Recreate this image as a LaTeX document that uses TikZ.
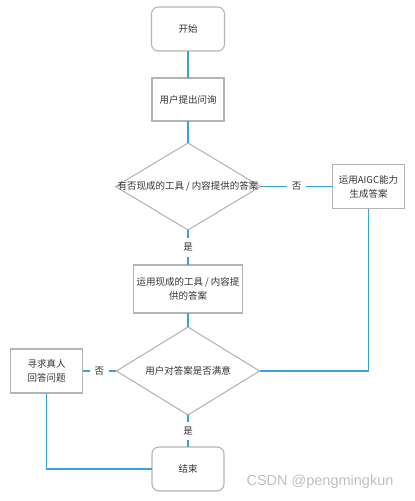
\documentclass[tikz,border=0pt]{standalone}
\usepackage{fontspec}
\setmainfont{Noto Sans CJK SC}
\usepackage{tikz}
\usetikzlibrary{shapes.geometric, positioning}
\definecolor{flowblue}{HTML}{3AA0D8}
\definecolor{flowgray}{HTML}{B4B4B4}
\definecolor{flowtext}{HTML}{333333}

\begin{document}
\begin{tikzpicture}[
  x=1pt, y=-1pt, node distance = 22pt and 72pt,
  box/.style   = {rectangle, draw=flowgray, line width=1.1pt, align=center,
                  inner sep=2pt, outer sep=0pt, text=flowtext,
                  font=\fontsize{9.5}{14}\selectfont},
  term/.style  = {box, rounded corners=7pt, minimum width=73pt, minimum height=44pt},
  proc/.style  = {box, minimum width=72pt, minimum height=44pt},
  choice/.style= {diamond, draw=flowgray, line width=1.1pt, inner sep=0pt,
                  outer sep=0pt, minimum width=145pt, minimum height=87pt},
  ctext/.style = {text=flowtext, font=\fontsize{9.5}{14}\selectfont},
  flow/.style  = {draw=flowblue, line width=1.5pt},
  tag/.style   = {fill=white, inner sep=5pt, text=flowtext,
                  font=\fontsize{9.5}{12}\selectfont}
]
  \useasboundingbox (0,0) rectangle (415,501);

  \node[term] (start) at (188,29) {开始};
  \node[proc, below=27pt of start, minimum height=43pt] (ask) {用户提出问询};
  \node[choice, below=22pt of ask] (have) {};
  \node[ctext] (haveT) at (have.center) {有否现成的工具 / 内容提供的答案};
  \node[proc, right=of have] (aigc) {运用AIGC能力\\生成答案};
  \node[proc, below=35pt of have, minimum width=109pt, minimum height=48pt] (tool)
    {运用现成的工具 / 内容提\\供的答案};
  \node[choice, below=14pt of tool, minimum width=143pt, minimum height=88pt] (ok) {};
  \node[ctext] (okT) at (ok.center) {用户对答案是否满意};
  \node[proc, left=34pt of ok] (human) {寻求真人\\回答问题};
  \node[term, below=32pt of ok, minimum width=72pt] (end) {结束};

  \draw[flow] (start) -- (ask);
  \draw[flow] (ask) -- (have);
  \draw[flow] (have) -- node[tag] {否} (aigc);
  \draw[flow] (have) -- node[tag] {是} (tool);
  \draw[flow] (tool) -- (ok);
  \draw[flow] (aigc.south) |- (ok.east);
  \draw[flow] (ok) -- node[tag] {否} (human);
  \draw[flow] (ok) -- node[tag] {是} (end);
  \draw[flow] (human.south) |- (end.west);

  \node[text=black!25, font=\fontsize{14.5}{16}\selectfont\fontspec{Liberation Sans}]
    (mark) at (320,482) {CSDN @pengmingkun};
\end{tikzpicture}
\end{document}
